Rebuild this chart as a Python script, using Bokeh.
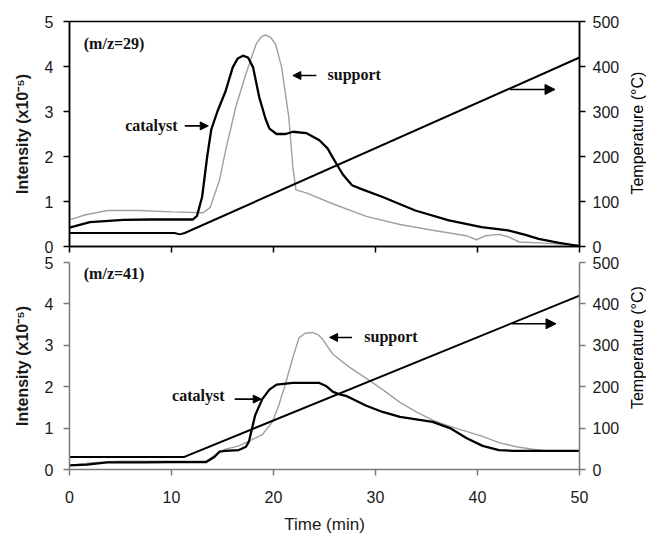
import math
from bokeh.plotting import figure
from bokeh.models import Range1d, LinearAxis, FixedTicker, Arrow, NormalHead, Label
from bokeh.core.properties import value
from bokeh.layouts import column, row
from bokeh.embed import file_html
from bokeh.resources import INLINE

# ---------------- data ----------------
time_ticks = [0, 10, 20, 30, 40, 50]
int_ticks = [0, 1, 2, 3, 4, 5]
temp_ticks = [0, 100, 200, 300, 400, 500]

# m/z = 29
cat29_t = [0, 2.0, 5.3, 8, 12.1, 12.5, 13.0, 13.5, 13.9, 14.5, 15.3, 16.0, 16.5, 17.0, 17.5, 18.0,
           18.6, 19.2, 19.6, 20.3, 21.2, 21.9, 23.2, 24.5, 25.3, 25.8, 26.4, 26.8, 27.7, 28.7, 30.7,
           33.9, 37.2, 40.4, 43.0, 44.7, 46.0, 48.0, 50]
cat29_i = [0.42, 0.54, 0.59, 0.6, 0.6, 0.68, 1.1, 2.0, 2.6, 3.0, 3.45, 3.98, 4.18, 4.24, 4.2, 3.98,
           3.32, 2.85, 2.62, 2.5, 2.5, 2.55, 2.52, 2.36, 2.18, 1.98, 1.75, 1.6, 1.36, 1.27, 1.1,
           0.8, 0.58, 0.43, 0.36, 0.26, 0.17, 0.08, 0.01]
sup29_t = [0, 1.5, 3.7, 6.9, 10, 13.1, 13.8, 14.7, 15.3, 16.3, 17.3, 18.3, 18.8, 19.2, 19.7, 20.2,
           20.8, 21.5, 21.9, 22.2, 23.2, 25.8, 29.1, 32.4, 35.6, 38.9, 39.9, 40.8, 42.1, 43.1, 44.1,
           46.0, 50]
sup29_i = [0.59, 0.7, 0.8, 0.8, 0.77, 0.75, 0.87, 1.47, 2.13, 3.1, 3.84, 4.5, 4.66, 4.7, 4.65, 4.5,
           3.98, 2.87, 1.76, 1.26, 1.19, 0.95, 0.67, 0.49, 0.36, 0.24, 0.15, 0.24, 0.27, 0.21, 0.1,
           0.08, 0.03]
temp29_t = [0, 10.3, 10.8, 11.3, 50]
temp29_c = [30, 30, 27, 30, 420]

# m/z = 41
cat41_t = [0, 1.7, 3.7, 7, 10, 13.4, 14.2, 14.7, 15.3, 16.6, 17.3, 17.6, 18.2, 18.9, 19.6, 20.3,
           21.9, 24.5, 25.2, 25.8, 26.4, 27.1, 29.1, 30.7, 32.4, 34.0, 35.6, 37.3, 38.9, 40.5,
           42.1, 43.5, 50]
cat41_i = [0.1, 0.12, 0.17, 0.17, 0.18, 0.18, 0.3, 0.43, 0.45, 0.47, 0.55, 0.68, 1.31, 1.7, 1.93,
           2.05, 2.09, 2.09, 2.01, 1.88, 1.82, 1.78, 1.54, 1.39, 1.27, 1.21, 1.15, 1.0, 0.76, 0.57,
           0.47, 0.45, 0.45]
sup41_t = [0, 2, 4.9, 13.4, 14.4, 15.3, 16.6, 17.9, 18.9, 19.9, 20.5, 21.2, 21.9, 22.5, 23.1, 23.8,
           24.4, 24.8, 25.8, 27.4, 29.1, 30.7, 32.4, 34.0, 35.6, 37.3, 38.9, 40.5, 42.1, 43.8, 45.4,
           47]
sup41_i = [0.1, 0.16, 0.2, 0.2, 0.37, 0.49, 0.57, 0.72, 0.84, 1.15, 1.54, 2.09, 2.71, 3.18, 3.29,
           3.31, 3.25, 3.15, 2.79, 2.48, 2.2, 1.93, 1.62, 1.39, 1.19, 1.04, 0.92, 0.8, 0.65, 0.55,
           0.49, 0.45]
temp41_t = [0, 11.2, 50]
temp41_c = [30, 30, 420]

TICK_FONT = "Liberation Sans"
ANN_FONT = "Liberation Serif"
W = 622      # main figure width
WT = 24      # strip holding the right-hand axis title


def style_axis(ax, color):
    ax.axis_line_color = color
    ax.axis_line_width = 1.5
    ax.major_tick_line_color = color
    ax.major_tick_line_width = 1.5
    ax.major_tick_out = 6
    ax.major_tick_in = 0
    ax.minor_tick_out = 0
    ax.minor_tick_in = 0
    ax.major_label_text_font = TICK_FONT
    ax.major_label_text_font_size = "16px"
    ax.major_label_text_color = "#1a1a1a"


def panel(height, top, bottom, axcolor, outline):
    p = figure(width=W, height=height, output_backend="svg", toolbar_location=None,
               x_range=Range1d(0, 50), y_range=Range1d(0, 5),
               min_border_left=69, min_border_right=W - 581,
               min_border_top=top, min_border_bottom=bottom)
    p.extra_y_ranges = {"temp": Range1d(0, 500)}
    p.grid.visible = False
    p.outline_line_color = "black" if outline else None
    p.outline_line_width = 1.5
    p.background_fill_color = "white"
    p.border_fill_color = "white"
    p.xaxis.ticker = FixedTicker(ticks=time_ticks)
    p.yaxis.ticker = FixedTicker(ticks=int_ticks)
    style_axis(p.xaxis[0], axcolor)
    style_axis(p.yaxis[0], axcolor)
    p.yaxis.major_label_standoff = 10
    p.yaxis.axis_label = "Intensity (x10\u207b\u2075)"
    p.yaxis.axis_label_text_font = TICK_FONT
    p.yaxis.axis_label_text_font_size = "16px"
    p.yaxis.axis_label_text_font_style = "bold"
    p.yaxis.axis_label_standoff = 11
    p.yaxis.axis_label_text_color = "#1a1a1a"
    rax = LinearAxis(y_range_name="temp", ticker=FixedTicker(ticks=temp_ticks))
    style_axis(rax, axcolor)
    rax.major_label_standoff = 7
    p.add_layout(rax, "right")
    return p


def title_strip(height, ycenter):
    # narrow figure carrying the right axis title, reading bottom-to-top
    q = figure(width=WT, height=height, output_backend="svg", toolbar_location=None,
               x_range=Range1d(0, WT), y_range=Range1d(height, 0),
               x_axis_type=None, y_axis_type=None, min_border=0)
    q.grid.visible = False
    q.outline_line_color = None
    q.background_fill_color = "white"
    q.border_fill_color = "white"
    q.text(x=[15], y=[ycenter], text=["Temperature (\u00b0C)"], angle=math.pi / 2,
           text_font=value(TICK_FONT), text_font_size=value("16px"),
           text_align="center", text_baseline="middle", text_color="black")
    return q


def ann(p, x, y, text, align):
    p.add_layout(Label(x=x, y=y, text=text, text_font=ANN_FONT, text_font_style="bold",
                       text_font_size="16px", text_align=align, text_baseline="middle",
                       text_color="#111111"))


def arrow(p, x0, x1, y, size=8, rng="default"):
    p.add_layout(Arrow(end=NormalHead(size=size, fill_color="black", line_color="black"),
                       x_start=x0, y_start=y, x_end=x1, y_end=y, line_width=1.6,
                       line_color="black", y_range_name=rng))


# ---------------- top panel (m/z=29) ----------------
p1 = panel(254, 21, 8, "black", True)
p1.xaxis.major_label_overrides = {t: "" for t in time_ticks}
p1.xaxis.major_label_text_font_size = "0px"
p1.xaxis.major_label_standoff = 0
p1.line(sup29_t, sup29_i, line_color="#a0a0a0", line_width=1.4)
p1.line(cat29_t, cat29_i, line_color="black", line_width=2.3)
p1.line(temp29_t, temp29_c, line_color="black", line_width=2.0, y_range_name="temp")
ann(p1, 1.4, 4.51, "(m/z=29)", "left")
ann(p1, 10.6, 2.7, "catalyst", "right")
arrow(p1, 11.3, 13.6, 2.68)
arrow(p1, 24.2, 21.9, 3.8)
ann(p1, 25.3, 3.83, "support", "left")
arrow(p1, 43.2, 47.6, 349, size=10, rng="temp")
q1 = title_strip(254, 126)

# ---------------- bottom panel (m/z=41) ----------------
p2 = panel(282, 8, 60, "#7a7a7a", False)
p2.xaxis.major_label_standoff = 15
p2.xaxis.axis_label = "Time (min)"
p2.xaxis.axis_label_text_font = TICK_FONT
p2.xaxis.axis_label_text_font_size = "17px"
p2.xaxis.axis_label_text_font_style = "normal"
p2.xaxis.axis_label_standoff = 9
p2.xaxis.axis_label_text_color = "#1a1a1a"
p2.line(sup41_t, sup41_i, line_color="#a0a0a0", line_width=1.4)
p2.line(cat41_t, cat41_i, line_color="black", line_width=2.3)
p2.line(temp41_t, temp41_c, line_color="black", line_width=2.0, y_range_name="temp")
ann(p2, 1.4, 4.74, "(m/z=41)", "left")
ann(p2, 15.2, 1.78, "catalyst", "right")
arrow(p2, 16.2, 18.8, 1.7)
arrow(p2, 27.7, 25.5, 3.19)
ann(p2, 28.9, 3.21, "support", "left")
arrow(p2, 43.4, 47.7, 352, size=10, rng="temp")
q2 = title_strip(282, 116)

layout = column(row(p1, q1, spacing=0), row(p2, q2, spacing=0), spacing=0)
open("out.html", "w").write(file_html(layout, INLINE))
